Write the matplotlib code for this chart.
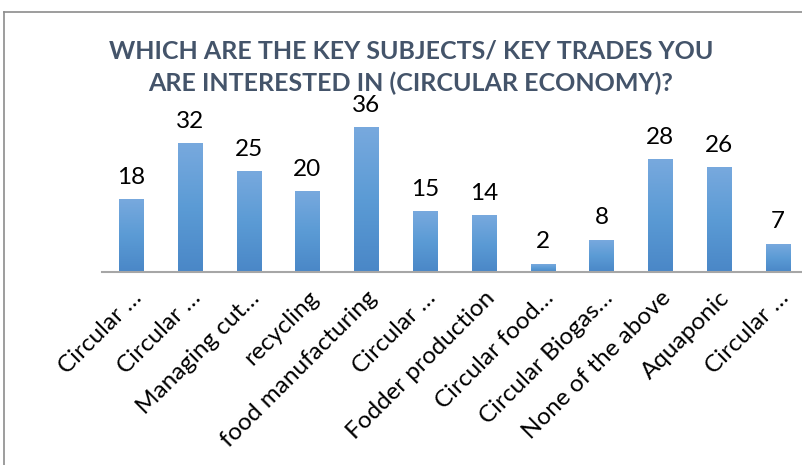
import matplotlib.pyplot as plt
import numpy as np
from matplotlib.colors import LinearSegmentedColormap
from matplotlib.lines import Line2D

plt.rcParams['font.family'] = ['Lato', 'DejaVu Sans']

# Survey answers
categories = ["Circular …", "Circular …", "Managing cut…", "recycling",
              "food manufacturing", "Circular …", "Fodder production",
              "Circular food…", "Circular Biogas…", "None of the above",
              "Aquaponic", "Circular …"]
counts = [18, 32, 25, 20, 36, 15, 14, 2, 8, 28, 26, 7]

title = "WHICH ARE THE KEY SUBJECTS/ KEY TRADES YOU\nARE INTERESTED IN (CIRCULAR ECONOMY)?"

W, H = 803, 465
fig = plt.figure(figsize=(W / 100, H / 100), dpi=100)
ax = fig.add_axes([101.6 / W, 193 / H, 705.8 / W, 160 / H])

x = np.arange(len(counts))
bw = 0.41
grad = LinearSegmentedColormap.from_list("bar", ["#4a87c7", "#5b9bd5", "#78a9de"])
img = np.linspace(0, 1, 256).reshape(-1, 1)

bars = ax.bar(x, counts, width=bw, color="none", edgecolor="none")
for b in bars:
    x0, y0, w, h = b.get_x(), b.get_y(), b.get_width(), b.get_height()
    ax.imshow(img, cmap=grad, origin="lower", aspect="auto",
              extent=(x0, x0 + w, y0, y0 + h), zorder=2)
    ax.text(x0 + w / 2, h + 2.9, str(int(h)), ha="center", va="bottom",
            fontsize=17.5, color="black")

ax.set_xlim(-0.5, len(counts) - 0.5)
ax.set_ylim(0, 40)
for s in ["left", "right", "top"]:
    ax.spines[s].set_visible(False)
ax.spines["bottom"].set_color("#a6a6a6")
ax.spines["bottom"].set_linewidth(1.5)
ax.set_yticks([])
ax.set_xticks(x)
ax.set_xticklabels(categories, rotation=45, ha="right", rotation_mode="anchor",
                   fontsize=17.5)
ax.tick_params(axis="x", length=0, pad=11)

fig.text(411 / W, 1 - 67 / H, title, ha="center", va="center", fontsize=18,
         fontweight="bold", color="#44546a", linespacing=1.45)

# chart border
fig.add_artist(Line2D([4.5 / W, 4.5 / W], [0, 1 - 12.5 / H], color="#8c8c8c", lw=1.2))
fig.add_artist(Line2D([4.5 / W, 1], [1 - 12.5 / H, 1 - 12.5 / H], color="#8c8c8c", lw=1.2))

fig.savefig("out.png", dpi=100)
